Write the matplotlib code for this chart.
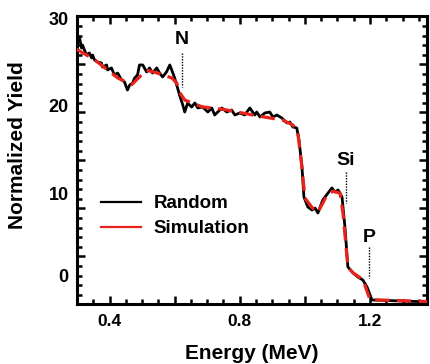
import numpy as np
import matplotlib
matplotlib.use("Agg")
import matplotlib.pyplot as plt
from matplotlib.ticker import MultipleLocator
from matplotlib.lines import Line2D

plt.rcParams['font.family'] = ['Liberation Sans', 'DejaVu Sans']

# measured spectrum (Random)
rand_e = [0.298, 0.308, 0.314, 0.317, 0.329, 0.338, 0.345, 0.348, 0.354, 0.363,
          0.375, 0.378, 0.391, 0.394, 0.406, 0.415, 0.425, 0.437, 0.446, 0.455,
          0.462, 0.471, 0.477, 0.486, 0.492, 0.502, 0.514, 0.523, 0.532, 0.545,
          0.554, 0.563, 0.575, 0.585, 0.591, 0.600, 0.609, 0.615, 0.625, 0.631,
          0.640, 0.652, 0.662, 0.671, 0.686, 0.702, 0.714, 0.723, 0.745, 0.760,
          0.775, 0.785, 0.800, 0.815, 0.831, 0.846, 0.852, 0.862, 0.877, 0.892,
          0.902, 0.914, 0.929, 0.945, 0.954, 0.963, 0.975, 0.982, 0.991, 0.997,
          1.009, 1.022, 1.031, 1.040, 1.055, 1.071, 1.083, 1.092, 1.102, 1.114,
          1.123, 1.132, 1.148, 1.163, 1.178, 1.191, 1.206, 1.385]
rand_y = [28.07, 27.76, 26.72, 27.03, 25.99, 26.20, 25.68, 25.99, 25.47, 25.26,
          25.16, 24.74, 24.95, 24.43, 24.64, 23.91, 24.11, 23.39, 23.18, 22.34,
          22.86, 23.07, 23.59, 23.91, 24.95, 24.95, 24.22, 24.64, 24.11, 24.64,
          24.11, 23.70, 24.22, 24.95, 24.43, 23.59, 22.55, 21.82, 20.78, 20.05,
          20.99, 20.57, 20.99, 20.47, 20.57, 20.05, 20.47, 19.74, 20.47, 20.05,
          20.26, 19.74, 19.95, 19.74, 20.47, 19.74, 20.05, 19.53, 19.95, 20.05,
          19.53, 19.74, 19.43, 18.91, 19.01, 18.49, 18.39, 17.14, 14.32, 11.20,
          10.16, 9.84, 10.05, 9.53, 10.89, 11.61, 12.14, 11.72, 11.93, 11.20,
          8.07, 3.91, 3.28, 2.86, 2.55, 1.82, 0.47, 0.26]

# simulated spectrum
sim_e = [0.298, 0.354, 0.425, 0.468, 0.498, 0.514, 0.538, 0.591, 0.606, 0.615,
         0.631, 0.683, 0.754, 0.846, 0.932, 0.963, 0.978, 0.991, 1.000, 1.022,
         1.040, 1.068, 1.086, 1.108, 1.117, 1.132, 1.148, 1.178, 1.200, 1.385]
sim_y = [26.6, 25.5, 23.6, 22.9, 23.9, 24.4, 24.2, 23.6, 23.1, 22.1,
         21.3, 20.6, 20.3, 19.7, 19.2, 18.7, 17.9, 14.3, 11.1, 10.1,
         9.6, 11.4, 11.8, 11.6, 9.5, 3.9, 3.3, 2.6, 0.5, 0.3]

# element edges: name, energy, label height, dotted line from/to
edge_names = ['N', 'Si', 'P']
edge_e = [0.622, 1.126, 1.197]
edge_txt_y = [27.6, 15.05, 7.0]
edge_top = [26.2, 13.8, 6.0]
edge_bot = [22.7, 10.6, 2.8]

ytick_pos = [2.97, 11.54, 20.78, 29.74]
ytick_lab = ['0', '10', '20', '30']

fig = plt.figure(figsize=(4.3, 3.64), dpi=100)
ax = fig.add_axes([0.179, 0.1635, 0.814, 0.7912])

ax.plot(rand_e, rand_y, color='black', lw=2.0, zorder=2)
ax.plot(sim_e, sim_y, color='#e8231c', lw=2.3, dashes=(4.5, 2.3), zorder=3)

for name, e, ty, y0, y1 in zip(edge_names, edge_e, edge_txt_y, edge_top, edge_bot):
    ax.plot([e, e], [y0, y1], color='black', lw=1.0, ls=(0, (1, 1)), zorder=4)
    ax.text(e, ty, name, ha='center', va='center', fontsize=14, fontweight='bold')

ax.set_xlim(0.3, 1.375)
ax.set_ylim(0, 30)

ax.xaxis.set_minor_locator(MultipleLocator(0.05))
ax.set_xticks([0.4, 0.6, 0.8, 1.0, 1.2], ['0.4', '', '0.8', '', '1.2'])
ax.yaxis.set_major_locator(MultipleLocator(5))
ax.yaxis.set_minor_locator(MultipleLocator(1))
ax.set_yticklabels([])

ax.tick_params(which='both', direction='in', top=True, right=True, width=1.8, color='black')
ax.tick_params(which='major', length=6)
ax.tick_params(which='minor', length=3.5)
ax.tick_params(axis='x', labelsize=12.5, pad=7)
for lab in ax.get_xticklabels():
    lab.set_fontweight('bold')
for sp in ax.spines.values():
    sp.set_linewidth(2.2)

# tick labels of the y axis sit apart from the tick marks
sec = ax.secondary_yaxis('left')
sec.set_yticks(ytick_pos, ytick_lab)
sec.tick_params(length=0, pad=6, labelsize=13)
sec.spines['left'].set_visible(False)
for lab in sec.get_yticklabels():
    lab.set_fontweight('bold')

ax.set_xlabel('Energy (MeV)', fontsize=15, fontweight='bold', va='center')
ax.xaxis.set_label_coords(0.5, -0.17)
ax.set_ylabel('Normalized Yield', fontsize=15, fontweight='bold', va='center')
ax.yaxis.set_label_coords(-0.17, 0.554)

handles = [Line2D([], [], color='black', lw=1.6),
           Line2D([], [], color='#e8231c', lw=1.6)]
ax.legend(handles, ['Random', 'Simulation'], loc='upper left',
          bbox_to_anchor=(0.07, 0.38), frameon=False, borderpad=0,
          borderaxespad=0, handlelength=2.1, handletextpad=0.7,
          labelspacing=0.42, prop={'weight': 'bold', 'size': 13.5})

fig.savefig('out.png', dpi=100)
